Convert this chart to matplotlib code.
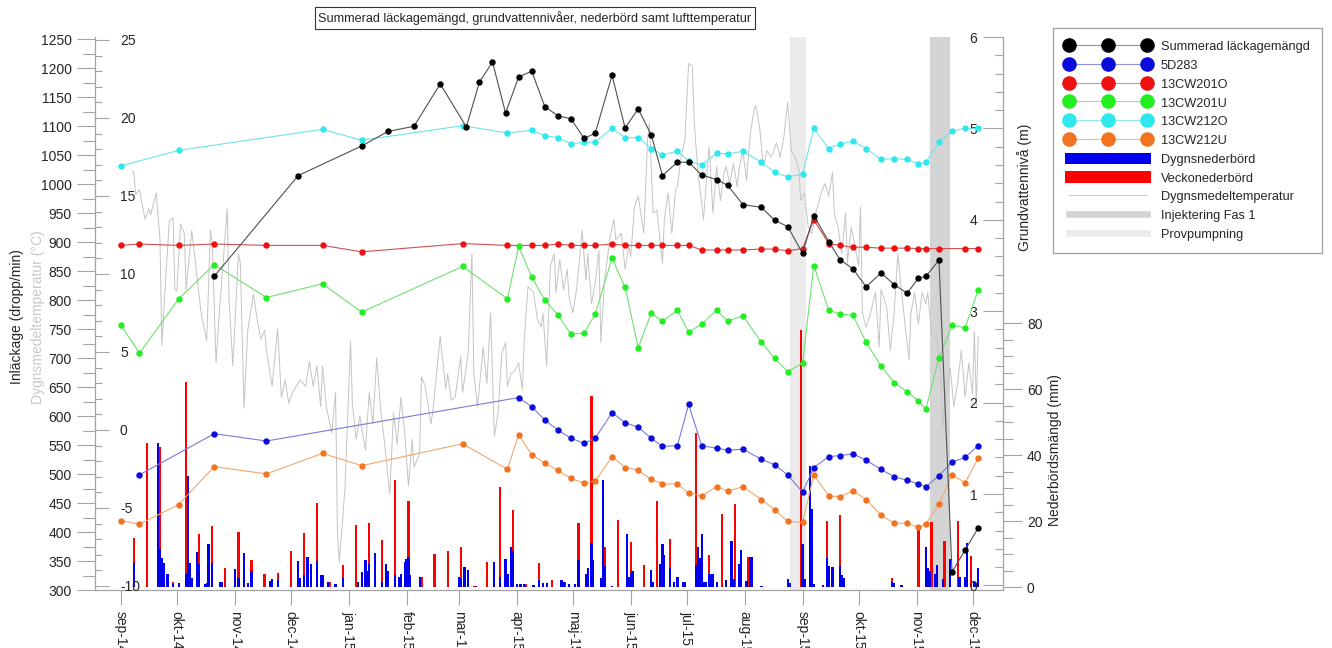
import numpy as np
import pandas as pd
import matplotlib
matplotlib.use("Agg")
import matplotlib.pyplot as plt
from matplotlib.lines import Line2D
from matplotlib.patches import Patch
from matplotlib.ticker import FixedLocator

plt.rcParams['font.family'] = ['Liberation Sans', 'DejaVu Sans']
plt.rcParams['axes.unicode_minus'] = False

# ---------------- data ----------------
manad = pd.date_range("2014-09-01", "2015-12-01", freq="MS")
manad_etikett = ["sep-14", "okt-14", "nov-14", "dec-14", "jan-15", "feb-15", "mar-15", "apr-15",
                 "maj-15", "jun-15", "jul-15", "aug-15", "sep-15", "okt-15", "nov-15", "dec-15"]

# veckovisa mätdatum apr-dec 2015
vecka = ["2015-04-09", "2015-04-16", "2015-04-23", "2015-04-30", "2015-05-07", "2015-05-13",
         "2015-05-22", "2015-05-29", "2015-06-05", "2015-06-12", "2015-06-18", "2015-06-26",
         "2015-07-02", "2015-07-09", "2015-07-17", "2015-07-23", "2015-07-31", "2015-08-10",
         "2015-08-17", "2015-08-24", "2015-09-01", "2015-09-07", "2015-09-15", "2015-09-21",
         "2015-09-28", "2015-10-05", "2015-10-13", "2015-10-20", "2015-10-27", "2015-11-02",
         "2015-11-06", "2015-11-13", "2015-11-20", "2015-11-27", "2015-12-04"]

# tidiga mätdatum grundvatten
gv_tidig = ["2014-09-01", "2014-09-11", "2014-10-02", "2014-10-21", "2014-11-18", "2014-12-18",
            "2015-01-08", "2015-03-03", "2015-03-27", "2015-04-02"]
nan = np.nan
cw212o = [4.59, nan, 4.76, nan, nan, 4.99, 4.87, 5.03, 4.95, nan,
          4.98, 4.92, 4.90, 4.83, 4.85, 4.85, 5.00, 4.90, 4.90, 4.78,
          4.71, 4.75, 4.64, 4.60, 4.73, 4.72, 4.75, 4.63, 4.52, 4.47,
          4.50, 5.00, 4.78, 4.83, 4.86, 4.78, 4.66, 4.67, 4.66, 4.61,
          4.63, 4.85, 4.97, 5.00, 5.00]
cw201o = [3.72, 3.735, 3.72, 3.735, 3.72, 3.72, 3.65, 3.74, 3.72, nan,
          3.72, 3.72, 3.735, 3.72, 3.72, 3.72, 3.735, 3.72, 3.72, 3.72,
          3.72, 3.72, 3.72, 3.67, 3.67, 3.67, 3.67, 3.68, 3.68, 3.66,
          3.685, 4.00, 3.74, 3.72, 3.70, 3.70, 3.69, 3.69, 3.69, 3.685,
          3.685, 3.685, nan, 3.685, 3.685]
cw201u = [2.85, 2.54, 3.135, 3.51, 3.15, 3.30, 2.99, 3.49, 3.135, 3.71,
          3.375, 3.12, 2.96, 2.75, 2.76, 2.97, 3.58, 3.26, 2.60, 2.98,
          2.89, 3.01, 2.77, 2.86, 3.01, 2.89, 2.95, 2.66, 2.485, 2.34,
          2.43, 3.50, 3.01, 2.97, 2.955, 2.66, 2.40, 2.22, 2.12, 2.02,
          1.93, 2.49, 2.845, 2.82, 3.23]
d5d283 = [nan, 1.21, nan, 1.66, 1.58, nan, nan, nan, nan, 2.055,
          1.955, 1.81, 1.70, 1.61, 1.555, 1.61, 1.89, 1.78, 1.73, 1.61,
          1.52, 1.53, 1.98, 1.53, 1.50, 1.48, 1.49, 1.38, 1.32, 1.21,
          1.02, 1.29, 1.41, 1.42, 1.44, 1.37, 1.27, 1.19, 1.15, 1.11,
          1.08, 1.20, 1.35, 1.40, 1.53]
cw212u = [0.71, 0.67, 0.885, 1.30, 1.22, 1.445, 1.31, 1.55, 1.27, 1.65,
          1.43, 1.34, 1.26, 1.17, 1.12, 1.14, 1.41, 1.29, 1.26, 1.16,
          1.11, 1.11, 1.01, 0.98, 1.08, 1.03, 1.08, 0.94, 0.83, 0.70,
          0.69, 1.21, 0.98, 0.97, 1.035, 0.94, 0.77, 0.68, 0.68, 0.635,
          0.67, 0.89, 1.21, 1.125, 1.39]

# summerad läckagemängd (dropp/min)
lack_tidig = ["2014-10-21", "2014-12-05", "2015-01-08", "2015-01-22", "2015-02-05", "2015-02-19",
              "2015-03-05", "2015-03-12", "2015-03-19", "2015-03-26", "2015-04-02"]
lack = [841, 1015, 1066, 1091, 1100, 1173, 1099, 1176, 1211, 1123, 1185,
        1195, 1134, 1118, 1113, 1079, 1088, 1188, 1097, 1130, 1085,
        1015, 1038, 1038, 1016, 1008, 998, 965, 960, 938, 927,
        881, 946, 901, 870, 854, 823, 847, 827, 812, 838,
        841, 869, 331, 369, 407]

# veckonederbörd (mm), en stapel per vecka från 2014-09-08
vecka_start = "2014-09-08"
vecka_mm = [15.0, 43.8, 42.4, 1.5, 62.0, 16.0, 18.5, 5.9, 16.7, 8.2,
            3.8, 4.2, 10.8, 16.3, 25.5, 1.6, 6.7, 18.7, 19.5, 14.2,
            32.4, 26.1, 3.0, 9.9, 10.8, 12.2, 0.3, 7.6, 30.3, 23.2,
            0.8, 7.3, 2.0, 1.5, 19.5, 57.9, 12.1, 20.3, 13.7, 6.7,
            26.1, 14.7, 1.6, 46.7, 9.8, 22.0, 25.2, 9.1, 0.3, 0.0,
            2.3, 77.9, 0.8, 20.1, 21.9, 0.0, 0.0, 0.0, 2.8, 0.0,
            18.5, 19.8, 14.1, 19.9, 9.3]

# dygnsnederbörd (mm), dagar med nederbörd
dygn_datum = ["2014-09-08", "2014-09-21", "2014-09-22", "2014-09-23", "2014-09-24", "2014-09-26",
              "2014-09-29", "2014-10-02", "2014-10-06", "2014-10-07", "2014-10-08", "2014-10-09",
              "2014-10-12", "2014-10-13", "2014-10-16", "2014-10-17", "2014-10-18", "2014-10-20",
              "2014-10-24", "2014-10-25", "2014-11-01", "2014-11-03", "2014-11-06", "2014-11-08",
              "2014-11-10", "2014-11-20", "2014-11-21", "2014-11-24", "2014-12-05", "2014-12-06",
              "2014-12-08", "2014-12-10", "2014-12-12", "2014-12-15", "2014-12-17", "2014-12-18",
              "2014-12-21", "2014-12-25", "2014-12-29", "2015-01-06", "2015-01-08", "2015-01-10",
              "2015-01-11", "2015-01-12", "2015-01-15", "2015-01-19", "2015-01-21", "2015-01-22",
              "2015-01-26", "2015-01-28", "2015-01-29", "2015-01-31", "2015-02-01", "2015-02-02",
              "2015-02-03", "2015-02-08", "2015-03-01", "2015-03-02", "2015-03-04", "2015-03-06",
              "2015-03-10", "2015-03-20", "2015-03-23", "2015-03-26", "2015-03-27", "2015-03-29",
              "2015-03-30", "2015-04-01", "2015-04-03", "2015-04-05", "2015-04-10", "2015-04-13",
              "2015-04-15", "2015-04-17", "2015-04-25", "2015-04-26", "2015-04-29", "2015-05-02",
              "2015-05-04", "2015-05-08", "2015-05-09", "2015-05-11", "2015-05-12", "2015-05-16",
              "2015-05-17", "2015-05-18", "2015-05-22", "2015-05-30", "2015-05-31", "2015-06-01",
              "2015-06-02", "2015-06-12", "2015-06-13", "2015-06-17", "2015-06-18", "2015-06-19",
              "2015-06-22", "2015-06-24", "2015-06-26", "2015-06-29", "2015-06-30", "2015-07-06",
              "2015-07-07", "2015-07-08", "2015-07-09", "2015-07-10", "2015-07-11", "2015-07-13",
              "2015-07-14", "2015-07-15", "2015-07-17", "2015-07-22", "2015-07-25", "2015-07-26",
              "2015-07-29", "2015-07-30", "2015-08-02", "2015-08-04", "2015-08-05", "2015-08-10",
              "2015-08-24", "2015-08-25", "2015-09-01", "2015-09-02", "2015-09-05", "2015-09-06",
              "2015-09-07", "2015-09-12", "2015-09-14", "2015-09-15", "2015-09-17", "2015-09-21",
              "2015-09-22", "2015-09-23", "2015-10-19", "2015-10-20", "2015-10-24", "2015-11-06",
              "2015-11-07", "2015-11-08", "2015-11-11", "2015-11-12", "2015-11-15", "2015-11-19",
              "2015-11-24", "2015-11-27", "2015-11-28", "2015-12-02", "2015-12-04"]
dygn_mm = [7.4, 43.8, 11.4, 8.7, 7.2, 3.8,
           0.8, 1.1, 4.0, 33.5, 7.2, 2.8,
           10.6, 6.9, 0.8, 1.1, 12.9, 7.4,
           1.5, 1.5, 5.4, 2.6, 10.2, 1.3,
           4.8, 1.8, 2.3, 2.1, 7.8, 2.6,
           3.6, 9.2, 6.9, 7.9, 3.6, 3.6,
           1.5, 0.8, 2.6, 1.5, 4.5, 8.1,
           4.8, 6.9, 10.2, 1.6, 7.1, 4.8,
           3.6, 3.0, 4.1, 7.7, 8.4, 9.1,
           3.6, 3.0, 3.0, 2.8, 6.1, 5.1,
           0.3, 7.6, 3.0, 8.4, 3.8, 12.1,
           10.9, 1.0, 0.8, 0.8, 0.5, 2.0,
           1.3, 1.1, 2.0, 1.5, 0.8, 0.8,
           8.1, 3.8, 5.7, 13.4, 8.1, 2.8,
           32.4, 6.3, 0.3, 16.0, 3.0, 4.4,
           4.8, 5.1, 1.6, 7.1, 12.9, 9.7,
           5.9, 1.6, 3.0, 1.5, 1.5, 6.6,
           12.1, 8.9, 16.2, 1.6, 1.6, 3.8,
           4.0, 3.8, 1.5, 2.0, 13.9, 2.3,
           6.9, 11.1, 1.8, 9.1, 9.1, 0.3,
           2.3, 1.3, 12.9, 2.3, 36.6, 23.5,
           0.8, 0.6, 8.9, 6.4, 6.1, 6.4,
           3.6, 2.8, 1.6, 1.3, 0.5, 12.1,
           5.9, 4.8, 3.8, 6.6, 2.3, 8.4,
           3.0, 3.0, 13.4, 1.6, 5.7]

# dygnsmedeltemperatur (°C), dag räknat från 2014-09-01
temp_start = "2014-09-01"
temp_dag = [6, 7, 8, 10, 13, 15, 16, 19, 21, 22, 24, 26, 28, 29, 30, 32, 34, 35, 38, 41,
            43, 46, 48, 49, 51, 53, 57, 58, 60, 63, 64, 66, 68, 71, 73, 75, 77, 78, 81, 84,
            86, 88, 90, 92, 96, 99, 101, 103, 105, 107, 108, 110, 113, 115, 116, 117, 120, 123, 124, 126,
            128, 131, 133, 135, 137, 139, 141, 144, 146, 148, 150, 152, 154, 156, 157, 160, 161, 163, 166, 167,
            171, 174, 175, 177, 179, 182, 183, 186, 188, 189, 191, 194, 196, 198, 200, 202, 204, 206, 207, 209,
            211, 213, 215, 216, 218, 221, 223, 225, 226, 228,
            230, 232, 233, 235, 237, 239, 240, 242, 244, 247, 249, 250, 252, 254, 256, 257, 259, 262, 264, 265,
            268, 270, 272, 273, 275, 277, 280, 282, 283, 285, 287, 290, 291, 293, 295, 297, 298, 300, 302, 304,
            306, 307, 309, 312, 314, 315, 317, 319, 321, 323, 324, 326, 328, 330, 331, 333, 335, 337, 339, 340,
            342, 344, 346, 348, 349, 351, 353, 355, 357, 359, 361, 363, 364, 366, 368, 370, 372, 373, 375, 377,
            379, 381, 382, 384, 386, 388, 389, 391, 393, 395, 396, 397, 399, 401, 404, 406, 407, 410, 412, 414,
            416, 418, 420, 422, 423, 425, 427, 429, 431, 432, 434, 437, 439, 440, 442, 444, 446, 448, 450, 452,
            454, 456, 457, 458, 459]
temp_c = [16.6, 16.5, 15.1, 15.4, 13.5, 14.2, 13.8, 15.2, 12.2, 5.4, 9.6, 13.4, 13.6, 9.0, 8.9, 13.2, 12.6, 9.0, 12.8, 9.6,
          7.5, 5.7, 12.8, 12.0, 4.3, 7.9, 14.2, 8.3, 4.1, 11.3, 10.7, 1.4, 6.4, 8.7, 7.1, 5.8, 6.4, 5.1, 2.8, 6.5,
          2.1, 3.2, 1.7, 2.4, 3.2, 2.8, 4.4, 2.8, 4.1, 1.5, 4.1, 1.5, -0.2, 2.4, -6.6, -8.5, -3.8, 5.7, 1.7, -0.6,
          0.9, -1.3, 2.4, 0.4, 4.6, 1.5, -0.6, -4.1, 1.1, -0.9, 2.1, -0.2, -3.6, -0.6, -2.4, -1.5, 3.4, 2.8, 0.4, 1.1,
          6.0, 2.6, 3.6, 1.9, 2.1, 4.7, 2.4, 4.9, 11.3, 3.6, 1.5, 5.3, 3.0, 7.5, -0.4, 1.1, 4.9, 5.6, 2.8, 3.6,
          3.8, 4.3, 2.6, 5.8, 9.2, 8.8, 7.1, 6.6, 7.5, 4.1,
          10.5, 11.3, 8.8, 10.9, 9.0, 10.3, 8.5, 7.5, 9.0, 12.8, 9.6, 11.3, 8.1, 9.4, 11.5, 5.6, 9.6, 12.4, 13.5, 12.2,
          12.6, 10.3, 11.8, 11.1, 14.3, 15.0, 12.6, 18.6, 19.7, 13.9, 14.1, 10.7, 13.5, 15.2, 12.6, 15.4, 15.6, 17.5, 18.6, 23.5,
          23.3, 19.7, 16.5, 13.5, 16.9, 18.2, 13.9, 16.9, 14.7, 16.5, 16.9, 15.8, 17.1, 15.6, 16.7, 17.9, 16.0, 19.0, 20.5, 20.8,
          19.4, 16.9, 17.9, 17.5, 17.7, 18.4, 17.5, 18.8, 21.0, 17.9, 17.5, 16.7, 14.7, 15.2, 13.0, 12.6, 13.9, 14.3, 15.2, 15.8,
          15.0, 16.5, 13.9, 13.0, 11.3, 13.9, 10.7, 13.0, 11.8, 10.5, 14.3, 7.5, 6.6, 7.3, 8.8, 5.3, 9.0, 7.9, 5.1, 7.5,
          11.3, 8.8, 6.6, 4.5, 7.5, 8.8, 6.8, 8.8, 8.1, 8.8, 6.2, 5.8, 3.6, 0.2, 2.5, 4.0, 1.5, 3.0, 5.1, 2.1,
          4.3, 2.3, 6.3, 1.5, 6.0]

provpumpning = ("2015-08-25", "2015-09-03")
injektering = ("2015-11-08", "2015-11-19")

# ---------------- figure ----------------
gc = '#a3a3a3'   # axis grey
tc = '#262626'   # text
fs = 10

fig = plt.figure(figsize=(13.32, 6.48), dpi=100)
ax = fig.add_axes([95 / 1332, 58 / 648, 908 / 1332, 553 / 648])   # nederbörd + x-axel
ax_t = ax.twinx()    # temperatur
ax_g = ax.twinx()    # grundvatten
ax_l = ax.twinx()    # läckage

for a in (ax, ax_t, ax_g, ax_l):
    for s in a.spines.values():
        s.set_visible(False)
ax.spines['bottom'].set_visible(True)
ax.spines['right'].set_visible(True)
ax_l.spines['left'].set_visible(True)
for s in (ax.spines['bottom'], ax.spines['right'], ax_l.spines['left']):
    s.set_color(gc)
    s.set_linewidth(0.9)

# perioder
ax.axvspan(pd.Timestamp(provpumpning[0]), pd.Timestamp(provpumpning[1]), color='#ebebeb', lw=0, zorder=0)
ax.axvspan(pd.Timestamp(injektering[0]), pd.Timestamp(injektering[1]), color='#d4d4d4', lw=0, zorder=0)

# nederbörd
vecka_datum = pd.date_range(vecka_start, periods=len(vecka_mm), freq="7D")
ax.bar(vecka_datum, vecka_mm, width=1.2, color='#ff0000', lw=0, zorder=2)
ax.bar(pd.to_datetime(dygn_datum), dygn_mm, width=1.2, color='#0000ee', lw=0, zorder=2.1)

# temperatur
temp_datum = pd.Timestamp(temp_start) + pd.to_timedelta(temp_dag, unit='D')
ax_t.plot(temp_datum, temp_c, color='#c4c4c4', lw=0.7)

# grundvatten
gv_datum = pd.to_datetime(gv_tidig + vecka)


def rita(axis, datum, varden, farg, linje):
    v = np.array(varden, dtype=float)
    ok = ~np.isnan(v)
    axis.plot(datum[ok], v[ok], '-', color=linje, lw=0.8, marker='o', ms=4.6,
              mfc=farg, mec=farg, mew=0)


rita(ax_g, gv_datum, d5d283, '#0b0bdc', '#7a7ad8')
rita(ax_g, gv_datum, cw201o, '#ee1111', '#d05050')
rita(ax_g, gv_datum, cw201u, '#22ee22', '#70e070')
rita(ax_g, gv_datum, cw212o, '#2ee8ee', '#70e4e8')
rita(ax_g, gv_datum, cw212u, '#f27420', '#f0a870')

lack_datum = pd.to_datetime(lack_tidig + vecka)
rita(ax_l, lack_datum, lack, '#000000', '#505050')

# axlar
ax.set_xlim(pd.Timestamp("2014-08-18 05:00"), pd.Timestamp("2015-12-17 07:00"))
ax.set_xticks(manad)
ax.set_xticklabels(manad_etikett, rotation=-90, va='top', ha='center')
ax.tick_params(axis='x', direction='out', length=10.8, width=0.8, color=gc, pad=4,
               labelsize=fs, labelcolor=tc)

ax.set_ylim(-0.9, 166.7)
ax.yaxis.tick_right()
ax.set_yticks([0, 20, 40, 60, 80])
ax.yaxis.set_minor_locator(FixedLocator(np.arange(0, 81, 5)))
ax.tick_params(axis='y', which='major', direction='out', length=13.7, width=0.8, color=gc,
               pad=3.5, labelsize=fs, labelcolor=tc)
ax.tick_params(axis='y', which='minor', direction='out', length=7, width=0.8, color=gc)

ax_t.set_ylim(-10.26, 25.19)
ax_t.yaxis.tick_left()
ax_t.set_yticks([-10, -5, 0, 5, 10, 15, 20, 25])
ax_t.yaxis.set_minor_locator(FixedLocator(np.arange(-10, 26, 1)))
ax_t.tick_params(axis='y', which='major', direction='in', length=10, width=0.8, color=gc,
                 pad=-18, labelsize=fs, labelcolor=tc)
ax_t.tick_params(axis='y', which='minor', direction='in', length=5, width=0.8, color=gc)
plt.setp(ax_t.get_yticklabels(), ha='left')

ax_g.set_ylim(-0.05, 5.98)
ax_g.set_yticks([0, 1, 2, 3, 4, 5, 6])
ax_g.yaxis.set_minor_locator(FixedLocator(np.arange(0, 6.01, 0.2)))
ax_g.tick_params(axis='y', which='major', direction='in', length=14.4, width=0.8, color=gc,
                 pad=-18.5, labelsize=fs, labelcolor=tc)
ax_g.tick_params(axis='y', which='minor', direction='in', length=5.8, width=0.8, color=gc)
plt.setp(ax_g.get_yticklabels(), ha='right')

ax_l.set_ylim(300, 1254)
ax_l.yaxis.tick_left()
ax_l.set_yticks(np.arange(300, 1251, 50))
ax_l.yaxis.set_minor_locator(FixedLocator(np.arange(300, 1251, 25)))
ax_l.tick_params(axis='y', which='major', direction='out', length=13, width=0.8, color=gc,
                 pad=3.6, labelsize=fs, labelcolor=tc)
ax_l.tick_params(axis='y', which='minor', direction='out', length=8.6, width=0.8, color=gc)

# axeltexter
fig.text(17 / 1332, 1 - 317 / 648, "Inläckage (dropp/min)", rotation=90, ha='center', va='center',
         fontsize=fs, color=tc)
fig.text(38 / 1332, 1 - 317 / 648, "Dygnsmedeltemperatur (°C)", rotation=90, ha='center', va='center',
         fontsize=fs, color='#c8c8c8')
fig.text(1025 / 1332, 1 - 187 / 648, "Grundvattennivå (m)", rotation=90, ha='center', va='center',
         fontsize=fs, color=tc)
fig.text(1055 / 1332, 1 - 450 / 648, "Nederbördsmängd (mm)", rotation=90, ha='center', va='center',
         fontsize=fs, color=tc)

fig.text(535 / 1332, 1 - 18 / 648, "Summerad läckagemängd, grundvattennivåer, nederbörd samt lufttemperatur",
         ha='center', va='center', fontsize=9.1, color=tc,
         bbox=dict(boxstyle='square,pad=0.3', fc='white', ec='#333333', lw=0.8))

# legend
def punkt(farg, linje):
    return Line2D([0], [0], color=linje, lw=0.8, marker='o', ms=10.5, mfc=farg, mec=farg, mew=0)


handtag = [punkt('#000000', '#909090'), punkt('#0b0bdc', '#9090e0'), punkt('#ee1111', '#e09090'),
           punkt('#22ee22', '#90e890'), punkt('#2ee8ee', '#90ecee'), punkt('#f27420', '#f0b890'),
           Patch(facecolor='#0000ee', lw=0), Patch(facecolor='#ff0000', lw=0),
           Line2D([0], [0], color='#c8c8c8', lw=0.7),
           Line2D([0], [0], color='#d4d4d4', lw=4.8),
           Line2D([0], [0], color='#ebebeb', lw=4.8)]
etiketter = ["Summerad läckagemängd", "5D283", "13CW201O", "13CW201U", "13CW212O", "13CW212U",
             "Dygnsnederbörd", "Veckonederbörd", "Dygnsmedeltemperatur", "Injektering Fas 1", "Provpumpning"]
leg = fig.legend(handtag, etiketter, loc='upper left', bbox_to_anchor=(1053 / 1332, 1 - 28 / 648),
                 borderaxespad=0, numpoints=3, fontsize=9.2, handlelength=6.7, handleheight=1.04,
                 handletextpad=0.78, labelspacing=0.43, borderpad=0.95, fancybox=False,
                 edgecolor='#a0a0a0', framealpha=1)
leg.get_frame().set_linewidth(0.9)
for t in leg.get_texts():
    t.set_color(tc)

fig.savefig("out.png", dpi=100, facecolor='white')
